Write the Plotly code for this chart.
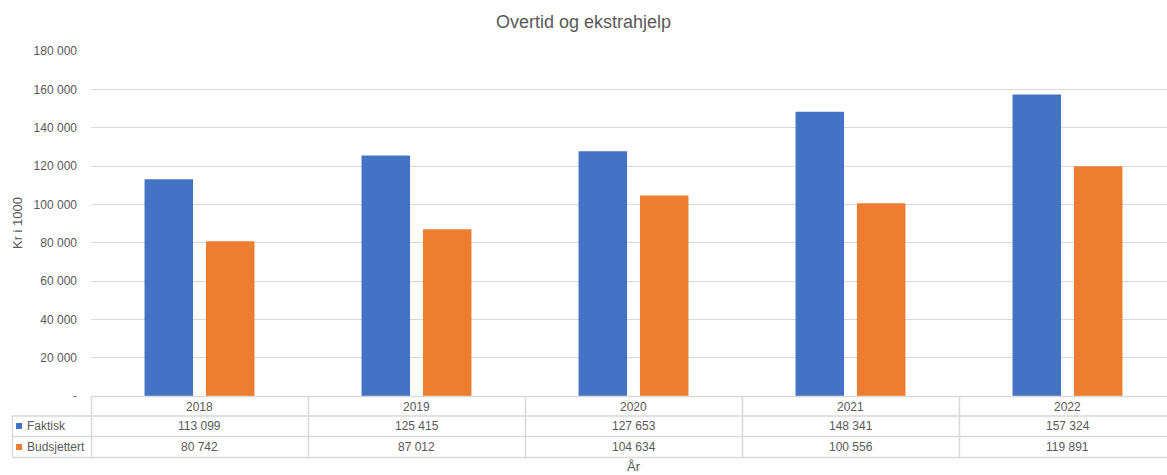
import plotly.graph_objects as go

years = ["2018", "2019", "2020", "2021", "2022"]
faktisk = [113099, 125415, 127653, 148341, 157324]
budsjettert = [80742, 87012, 104634, 100556, 119891]
series_names = ["Faktisk", "Budsjettert"]
colors = ["#4472C4", "#ED7D31"]
y_ticks = list(range(0, 180001, 20000))

W, H = 1167, 475
L, R_PX, T, B = 91, 1167, 51, 396
FONT = "Liberation Sans"
TXT = "#595959"
GRID = "#d9d9d9"
FS = 12


def fmt(v):
    return "-" if v == 0 else f"{v:,}".replace(",", " ")


def py(p):  # pixel y -> paper y
    return (B - p) / (B - T)


def px(p):  # pixel x -> paper x
    return (p - L) / (R_PX - L)


fig = go.Figure()
for name, vals, c in zip(series_names, [faktisk, budsjettert], colors):
    fig.add_trace(go.Bar(x=years, y=vals, name=name, marker=dict(color=c, line=dict(width=0))))

n = len(years)
x_right = -0.5 + (R_PX - L) / 217.0

fig.update_layout(
    width=W, height=H, autosize=False,
    margin=dict(l=L, r=W - R_PX, t=T, b=H - B, pad=0),
    paper_bgcolor="white", plot_bgcolor="white",
    showlegend=False,
    barmode="group", bargap=0.434, bargroupgap=0.21,
    font=dict(family=FONT, color=TXT, size=FS),
    title=dict(text="Overtid og ekstrahjelp", x=0.5, xanchor="center", y=1 - 22 / H, yanchor="middle",
               font=dict(size=18, color=TXT, family=FONT)),
    xaxis=dict(type="category", range=[-0.5, x_right], showticklabels=False, showgrid=False,
               zeroline=False, showline=False, ticks=""),
    yaxis=dict(range=[0, 180000], tickvals=y_ticks, ticktext=[fmt(v) for v in y_ticks],
               showgrid=True, gridcolor=GRID, gridwidth=1, zeroline=False, showline=False,
               ticks="", ticklabelstandoff=13, tickfont=dict(size=FS, color=TXT, family=FONT)),
)

annotations = []
shapes = []
# axis titles
annotations.append(dict(text="Kr i 1000", xref="paper", yref="paper", x=px(17), y=py(223),
                        xanchor="center", yanchor="middle",
                        textangle=-90, showarrow=False, font=dict(size=13, color=TXT)))
annotations.append(dict(text="År", xref="paper", yref="paper", x=0.5 * (px(91) + px(1176)), y=py(466),
                        xanchor="center", yanchor="middle",
                        showarrow=False, font=dict(size=13, color=TXT)))

# table header: years
for i, yr in enumerate(years):
    annotations.append(dict(text=yr, xref="x", yref="paper", x=i, y=py(406.5), showarrow=False,
                            xanchor="center", yanchor="middle", font=dict(size=FS, color=TXT)))
row_y = [426, 447]
for ri, (name, vals, c) in enumerate(zip(series_names, [faktisk, budsjettert], colors)):
    for i, v in enumerate(vals):
        annotations.append(dict(text=fmt(v), xref="x", yref="paper", x=i, y=py(row_y[ri]),
                                xanchor="center", yanchor="middle",
                                showarrow=False, font=dict(size=FS, color=TXT)))
    annotations.append(dict(text=name, xref="paper", yref="paper", x=px(25), y=py(row_y[ri]),
                            xanchor="left", yanchor="middle", showarrow=False,
                            font=dict(size=FS, color=TXT)))
    shapes.append(dict(type="rect", xref="paper", yref="paper", x0=px(16), x1=px(22),
                       y0=py(row_y[ri] - 3), y1=py(row_y[ri] + 3), fillcolor=c, line=dict(width=0)))

# table grid lines
for yline, x0 in [(396.5, 91), (416, 12), (436.5, 12), (457.5, 12)]:
    shapes.append(dict(type="line", xref="paper", yref="paper", x0=px(x0), x1=1, y0=py(yline), y1=py(yline),
                       line=dict(color=GRID, width=1.5)))
shapes.append(dict(type="line", xref="paper", yref="paper", x0=px(12.5), x1=px(12.5), y0=py(416), y1=py(457.5),
                   line=dict(color=GRID, width=1.5)))
for i in range(n):
    shapes.append(dict(type="line", xref="paper", yref="paper",
                       x0=(i + 0.0) / (x_right + 0.5) + 0.5 / (R_PX - L),
                       x1=(i + 0.0) / (x_right + 0.5) + 0.5 / (R_PX - L),
                       y0=py(396.5), y1=py(457.5), line=dict(color=GRID, width=1.5)))

fig.update_layout(annotations=annotations, shapes=shapes)
fig.write_html("out.html")
